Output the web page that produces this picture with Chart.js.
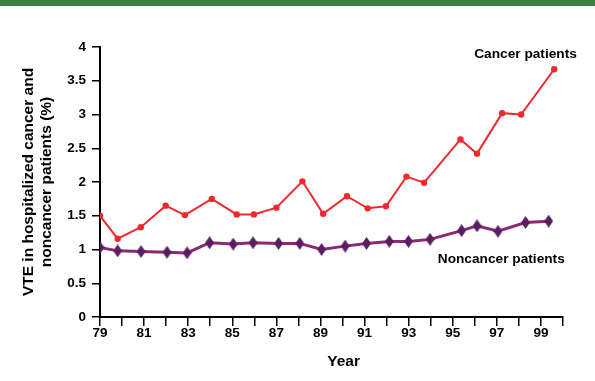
<!DOCTYPE html>
<html>
<head>
<meta charset="utf-8">
<script src="https://cdn.jsdelivr.net/npm/chart.js@4/dist/chart.umd.min.js"></script>
<style>
  body { margin: 0; background: #fff; }
  #wrap { position: relative; width: 595px; height: 381px; }
  #topbar { position: absolute; left: 0; top: 0; width: 595px; height: 6px; background: #3a7e3b; }
</style>
</head>
<body>
<div id="wrap">
  <canvas id="myChart"></canvas>
  <div id="topbar"></div>
</div>
<script>
// values (x = year, two digits)
var cancerYears = [79, 79.8, 80.85, 81.98, 82.85, 84.07, 85.2, 85.98, 87.0, 88.18, 89.12, 90.2, 91.14, 91.97, 92.9, 93.7, 95.35, 96.1, 97.24, 98.1, 99.6];
var cancerValues = [1.50, 1.16, 1.33, 1.65, 1.51, 1.75, 1.52, 1.52, 1.62, 2.01, 1.53, 1.79, 1.61, 1.64, 2.08, 1.99, 2.63, 2.42, 3.02, 3.00, 3.67];

var noncancerYears = [79, 79.8, 80.86, 82.04, 82.95, 83.97, 85.04, 85.94, 87.1, 88.06, 89.05, 90.12, 91.09, 92.12, 92.99, 93.97, 95.4, 96.1, 97.05, 98.3, 99.35];
var noncancerValues = [1.03, 0.98, 0.97, 0.96, 0.95, 1.10, 1.08, 1.10, 1.09, 1.09, 1.00, 1.05, 1.09, 1.12, 1.12, 1.15, 1.28, 1.35, 1.27, 1.40, 1.42];

var yearMin = 79;
var yearMax = 100;
var yTicks = [0, 0.5, 1, 1.5, 2, 2.5, 3, 3.5, 4];

var cancerLabel = "Cancer patients";
var noncancerLabel = "Noncancer patients";
var xTitle = "Year";

function to_points(xs, ys) {
    var pts = [];
    for (var i = 0; i < xs.length; i++) {
        pts.push({x: xs[i], y: ys[i]});
    }
    return pts;
}

// tall diamond marker for the noncancer series
function make_diamond(w, h, color) {
    var c = document.createElement('canvas');
    c.width = w;
    c.height = h;
    var g = c.getContext('2d');
    g.fillStyle = color;
    g.beginPath();
    g.moveTo(w / 2, 0);
    g.lineTo(w, h / 2);
    g.lineTo(w / 2, h);
    g.lineTo(0, h / 2);
    g.closePath();
    g.fill();
    return c;
}

var boldFont = "'Liberation Sans', Arial, Helvetica, sans-serif";

// series labels + x title (the title sits a bit right of centre in the original)
const seriesLabels = {
    id: 'seriesLabels',
    afterDatasetsDraw(chart) {
        var ctx = chart.ctx;
        var xs = chart.scales.x;
        var ys = chart.scales.y;
        ctx.save();
        ctx.fillStyle = '#000';
        ctx.font = "bold 13.7px " + boldFont;
        ctx.textAlign = 'center';
        ctx.textBaseline = 'middle';
        ctx.fillText(cancerLabel, xs.getPixelForValue(98.3), ys.getPixelForValue(3.89));
        ctx.fillText(noncancerLabel, xs.getPixelForValue(97.2), ys.getPixelForValue(0.86));

        ctx.font = "bold 15.5px " + boldFont;
        ctx.fillText(xTitle, xs.getPixelForValue(90.05), xs.bottom - 19);
        ctx.restore();
    }
};

var ctx = document.getElementById('myChart').getContext('2d');

var myChart = new Chart(ctx, {
    type: 'line',
    data: {
        datasets: [
        {
            label: cancerLabel,
            data: to_points(cancerYears, cancerValues),
            borderColor: '#ee2a2e',
            backgroundColor: '#ee2a2e',
            borderWidth: 2,
            pointRadius: 3.2,
            pointBorderWidth: 0,
            tension: 0
        },
        {
            label: noncancerLabel,
            data: to_points(noncancerYears, noncancerValues),
            borderColor: '#8b2a72',
            backgroundColor: '#5a1e62',
            borderWidth: 3,
            pointStyle: make_diamond(9, 13, '#5a1e62'),
            tension: 0
        }]
    },
    options: {
        responsive: true,
        maintainAspectRatio: false,
        animation: false,
        layout: {
            padding: {top: 47, right: 32, bottom: 0, left: 0}
        },
        plugins: {
            legend: {display: false},
            tooltip: {enabled: false}
        },
        scales: {
            x: {
                type: 'linear',
                min: yearMin,
                max: yearMax,
                afterFit: function(scale) { scale.height = 64; },
                afterBuildTicks: function(scale) {
                    var t = [];
                    for (var y = yearMin; y <= yearMax; y++) t.push({value: y});
                    scale.ticks = t;
                },
                ticks: {
                    autoSkip: false,
                    maxRotation: 0,
                    padding: -1,
                    color: '#000',
                    font: {family: boldFont, size: 13.5, weight: 'bold'},
                    callback: function(v) { return (v % 2 === 1) ? String(v) : ''; }
                },
                grid: {
                    display: true,
                    drawOnChartArea: false,
                    drawTicks: true,
                    tickLength: 9,
                    color: '#000',
                    lineWidth: 1.5
                },
                border: {display: true, color: '#000', width: 2},
                title: {display: false}
            },
            y: {
                min: 0,
                max: 4,
                afterFit: function(scale) { scale.width = 100; },
                afterBuildTicks: function(scale) {
                    scale.ticks = yTicks.map(function(v) { return {value: v}; });
                },
                ticks: {
                    padding: 6,
                    color: '#000',
                    font: {family: boldFont, size: 13.5, weight: 'bold'},
                    callback: function(v) { return String(v); }
                },
                grid: {
                    display: true,
                    drawOnChartArea: false,
                    drawTicks: true,
                    tickLength: 8,
                    color: '#000',
                    lineWidth: 1.5
                },
                border: {display: true, color: '#000', width: 2},
                title: {
                    display: true,
                    text: ['VTE in hospitalized cancer and', 'noncancer patients (%)'],
                    color: '#000',
                    font: {family: boldFont, size: 15.5, weight: 'bold', lineHeight: '17.5px'},
                    padding: {top: 20, bottom: 0}
                }
            }
        }
    },
    plugins: [seriesLabels]
});
</script>
</body>
</html>
